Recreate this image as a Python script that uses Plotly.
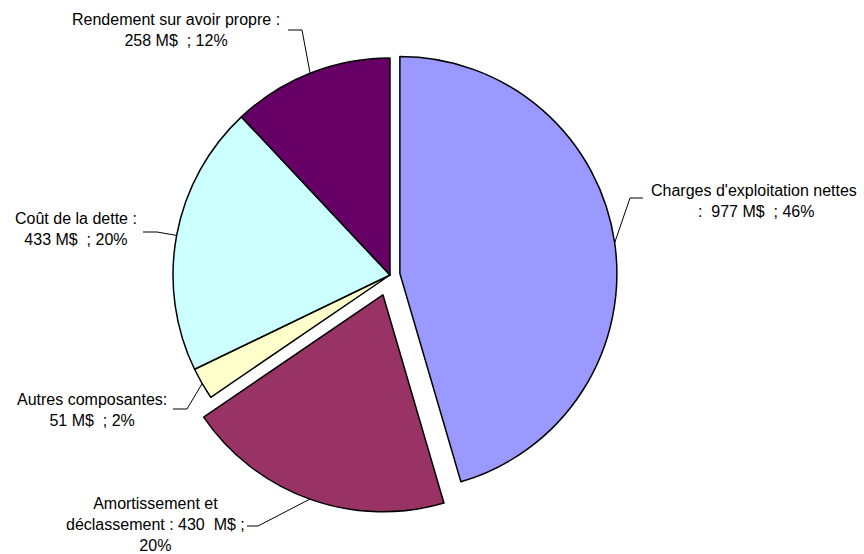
import math
import plotly.graph_objects as go

# ---- data ----
categories = ["Charges d'exploitation nettes", "Amortissement et déclassement",
              "Autres composantes", "Coût de la dette", "Rendement sur avoir propre"]
values = [977, 430, 51, 433, 258]
pct_labels = ["46%", "20%", "2%", "20%", "12%"]
label_texts = [
    "Charges d'exploitation nettes<br> :\u00a0 977 M$\u00a0 ; 46%",
    "Amortissement et<br>déclassement : 430\u00a0 M$ ;<br>20%",
    "Autres composantes:<br>51 M$\u00a0 ; 2%",
    "Coût de la dette :<br>433 M$\u00a0 ; 20%",
    "Rendement sur avoir propre :<br>258 M$\u00a0 ; 12%",
]
colors = ["#9999FF", "#993366", "#FFFFCC", "#CCFFFF", "#660066"]
pulls = [0.046, 0.097, 0, 0, 0]

# ---- layout constants (pixels) ----
W, H = 864, 554
CX, CY, R = 390, 275, 217
# label block centre, elbow start (text side), elbow end
label_pos = [(754, 201), (155, 524), (92, 410), (76, 229), (176, 30)]
elbows = [((643, 198), (630, 198)), ((247, 526), (258, 526)), ((173, 409), (187, 409)),
          ((143, 232), (157, 232)), ((288, 30), (302, 30))]

def px(x):
    return x / W

def py(y):
    return 1 - y / H

maxpull = max(pulls)
half = R * (1 + maxpull)
domain_x = [px(CX - half), px(CX + half)]
domain_y = [py(CY + half), py(CY - half)]

fig = go.Figure(go.Pie(
    labels=categories, values=values, sort=False, direction="clockwise", rotation=0,
    pull=pulls, textinfo="none", hoverinfo="label+value+percent",
    marker=dict(colors=colors, line=dict(color="black", width=1.5)),
    domain=dict(x=domain_x, y=domain_y), showlegend=False,
))

total = sum(values)
cum = 0
shapes = []
annotations = []
for i, v in enumerate(values):
    mid = (cum + v / 2) / total * 2 * math.pi
    cum += v
    ox = CX + pulls[i] * R * math.sin(mid)
    oy = CY - pulls[i] * R * math.cos(mid)
    ex = ox + R * math.sin(mid)
    ey = oy - R * math.cos(mid)
    (ax, ay), (bx, by) = elbows[i]
    path = f"M {px(ax)} {py(ay)} L {px(bx)} {py(by)} L {px(ex)} {py(ey)}"
    shapes.append(dict(type="path", xref="paper", yref="paper", path=path,
                       line=dict(color="black", width=1)))
    lx, ly = label_pos[i]
    annotations.append(dict(x=px(lx), y=py(ly), xref="paper", yref="paper",
                            text=label_texts[i], showarrow=False, align="center",
                            xanchor="center", yanchor="middle",
                            font=dict(size=16, color="black")))

fig.update_layout(
    width=W, height=H, margin=dict(l=0, r=0, t=0, b=0),
    paper_bgcolor="white", plot_bgcolor="white",
    font=dict(family="Liberation Sans, Arial, sans-serif"),
    shapes=shapes, annotations=annotations,
)
fig.write_html("out.html")
